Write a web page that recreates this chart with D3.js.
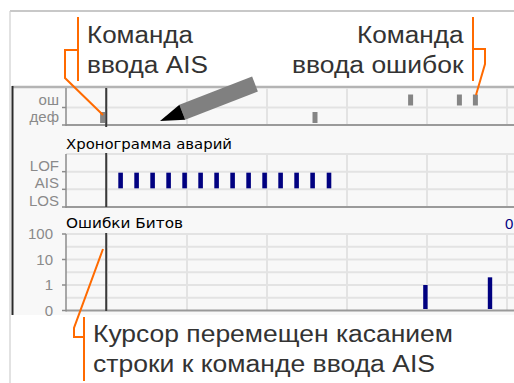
<!DOCTYPE html>
<html><head><meta charset="utf-8">
<script src="https://cdn.jsdelivr.net/npm/d3@7"></script>
<style>html,body{margin:0;padding:0;background:#fff;}svg{display:block;}</style>
</head><body>
<script>
// ---- data ----
const timeGrid = [10, 30, 50, 70, 90, 110];
const cursorTime = 9.8;
const errRows = ["ош", "деф"];
const errTimesOsh = [85.9, 98.1, 102.1];
const errTimesDef = [8.9, 62];
const alarmRows = ["LOF", "AIS", "LOS"];
const aisTimes = [13.4, 17.4, 21.4, 25.4, 29.4, 33.4, 37.4, 41.4, 45.4, 49.4, 53.4, 57.4, 61.4, 65.5];
const bitTickValues = [0, 1, 10, 100];
const bitTickLabels = ["0", "1", "10", "100"];
const bitErrTimes = [89.6, 105.75];
const bitErrValues = [1, 2];
const title2 = "Хронограмма аварий";
const title3 = "Ошибки Битов";

const W = 514, H = 383;
const svg = d3.select("body").append("svg").attr("width", W).attr("height", H);
svg.append("rect").attr("width", W).attr("height", H).attr("fill", "#fff");

const x = d3.scaleLinear().domain([0, 112]).range([67, 515]);
const AX = 66, RIGHT = 514;
const gridC = "#e3e3e3", axisC = "#9a9a9a", labC = "#8a8a8a";
const labFont = "'Liberation Sans', Arial, sans-serif";

// frame
svg.append("line").attr("x1", 10).attr("x2", W).attr("y1", 11).attr("y2", 11).attr("stroke", "#c8c8c8").attr("stroke-width", 2);
svg.append("line").attr("x1", 10).attr("x2", 10).attr("y1", 11).attr("y2", H).attr("stroke", "#cfcfcf").attr("stroke-width", 1.2);
svg.append("rect").attr("x", 12).attr("y", 87).attr("width", W - 12).attr("height", 228).attr("fill", "#f8f8f8");
svg.append("line").attr("x1", 12).attr("x2", W).attr("y1", 87).attr("y2", 87).attr("stroke", "#b4b4b4").attr("stroke-width", 2.5);
svg.append("line").attr("x1", 12.5).attr("x2", 12.5).attr("y1", 86).attr("y2", 315).attr("stroke", "#2a2a2a").attr("stroke-width", 2);

function panelFrame(top, bottom, hLines, ticks) {
  const g = svg.append("g");
  g.selectAll(".vg").data(timeGrid).join("line")
    .attr("x1", d => x(d)).attr("x2", d => x(d)).attr("y1", top).attr("y2", bottom)
    .attr("stroke", gridC).attr("stroke-width", 2);
  g.selectAll(".hg").data(hLines).join("line")
    .attr("x1", AX).attr("x2", RIGHT).attr("y1", d => d).attr("y2", d => d)
    .attr("stroke", gridC).attr("stroke-width", 2);
  g.append("line").attr("x1", AX).attr("x2", RIGHT).attr("y1", bottom).attr("y2", bottom)
    .attr("stroke", axisC).attr("stroke-width", 2);
  g.append("line").attr("x1", AX).attr("x2", AX).attr("y1", top).attr("y2", bottom + 1)
    .attr("stroke", "#8c8c8c").attr("stroke-width", 1.5);
  g.selectAll(".tk").data(ticks).join("line")
    .attr("x1", 62).attr("x2", AX).attr("y1", d => d).attr("y2", d => d)
    .attr("stroke", "#8c8c8c").attr("stroke-width", 1.5);
  return g;
}
function cursor(top, bottom) {
  svg.append("line").attr("x1", x(cursorTime)).attr("x2", x(cursorTime)).attr("y1", top).attr("y2", bottom)
    .attr("stroke", "#3a3a3a").attr("stroke-width", 2);
}

// ---- panel 1: errors ----
const y1 = d3.scaleBand().domain(errRows).range([90, 125]);
const bw1 = y1.bandwidth();
panelFrame(88, 125, [y1("деф")], errRows.map(r => y1(r) + bw1));
svg.selectAll(".l1").data(errRows).join("text")
  .attr("x", 59).attr("y", r => y1(r) + bw1 - 3).attr("text-anchor", "end")
  .attr("font-family", labFont).attr("font-size", 15).attr("fill", labC).text(r => r);
const ev1 = errTimesOsh.map(t => ({ row: "ош", t })).concat(errTimesDef.map(t => ({ row: "деф", t })));
svg.selectAll(".b1").data(ev1).join("rect")
  .attr("x", d => x(d.t) - 2.5).attr("width", 5)
  .attr("y", d => y1(d.row) + 4.5).attr("height", 11).attr("fill", "#858585");
cursor(88, 127);

// ---- panel 2: alarms ----
const y2 = d3.scaleBand().domain(alarmRows).range([154, 207]);
const bw2 = y2.bandwidth();
panelFrame(154, 207, [154, y2("AIS"), y2("LOS")], alarmRows.map(r => y2(r) + bw2));
svg.append("text").attr("x", 66).attr("y", 149).attr("font-family", "'DejaVu Sans', sans-serif")
  .attr("font-size", 13.5).attr("fill", "#000").attr("textLength", 166).attr("lengthAdjust", "spacingAndGlyphs").text(title2);
svg.selectAll(".l2").data(alarmRows).join("text")
  .attr("x", 59).attr("y", r => y2(r) + bw2 - 1).attr("text-anchor", "end")
  .attr("font-family", labFont).attr("font-size", 15).attr("fill", labC).text(r => r);
svg.selectAll(".b2").data(aisTimes).join("rect")
  .attr("x", t => x(t) - 2.3).attr("width", 4.6)
  .attr("y", y2("AIS") + 1).attr("height", bw2 - 2).attr("fill", "#000080");
cursor(153, 207);

// ---- panel 3: bit errors ----
const lvl = v => v <= 0 ? 0 : 1 + Math.log10(v);
const y3 = d3.scaleLinear().domain([0, 3]).range([310.5, 234]);
panelFrame(234, y3(0), d3.range(0.5, 3.01, 0.5).map(v => y3(v)), bitTickValues.map(v => y3(lvl(v))));
svg.append("text").attr("x", 66).attr("y", 228).attr("font-family", "'DejaVu Sans', sans-serif")
  .attr("font-size", 13.5).attr("fill", "#000").attr("textLength", 117).attr("lengthAdjust", "spacingAndGlyphs").text(title3);
svg.selectAll(".l3").data(bitTickValues).join("text")
  .attr("x", 53).attr("y", (v) => y3(lvl(v))).attr("dy", "0.36em").attr("text-anchor", "end")
  .attr("font-family", labFont).attr("font-size", 15).attr("fill", labC)
  .text((v, i) => bitTickLabels[i]);
svg.selectAll(".b3").data(bitErrTimes).join("rect")
  .attr("x", t => x(t) - 2.2).attr("width", 4.4)
  .attr("y", (t, i) => y3(lvl(bitErrValues[i])))
  .attr("height", (t, i) => y3(0) - 1.5 - y3(lvl(bitErrValues[i])))
  .attr("fill", "#000080");
svg.append("text").attr("x", 505).attr("y", 229).attr("font-family", labFont).attr("font-size", 15)
  .attr("fill", "#000080").text("0");
cursor(233, 311);

// ---- annotations ----
const orange = "#ff6a00";
function path(d) { svg.append("path").attr("d", d).attr("fill", "none").attr("stroke", orange).attr("stroke-width", 2); }
path("M78,17 V81");
path("M78,50 H65 V78 L103,115");
path("M473,17 V81");
path("M473,49 H485 V64 L476,95");
path("M84,317 V381");
path("M84,337 H74 V328 L103,249");

const annFont = "'Liberation Sans', Arial, sans-serif";
function ann(tx, ty, str, len, anchor) {
  svg.append("text").attr("x", tx).attr("y", ty).attr("text-anchor", anchor || "start")
    .attr("font-family", annFont).attr("font-size", 23).attr("fill", "#333")
    .attr("textLength", len).attr("lengthAdjust", "spacingAndGlyphs").text(str);
}
ann(87, 43, "Команда", 106);
ann(87, 73, "ввода AIS", 121);
ann(357, 43, "Команда", 106.5);
ann(292, 73, "ввода ошибок", 171.5);
ann(93, 342, "Курсор перемещен касанием", 360);
ann(93, 372, "строки к команде ввода AIS", 342);

// pencil
svg.append("polygon").attr("points", "257.9,91.5 252.1,76.5 179.4,104.8 185.2,119.8").attr("fill", "#808080");
svg.append("polygon").attr("points", "179.4,104.8 185.2,119.8 160,121").attr("fill", "#000");
</script>
</body></html>
